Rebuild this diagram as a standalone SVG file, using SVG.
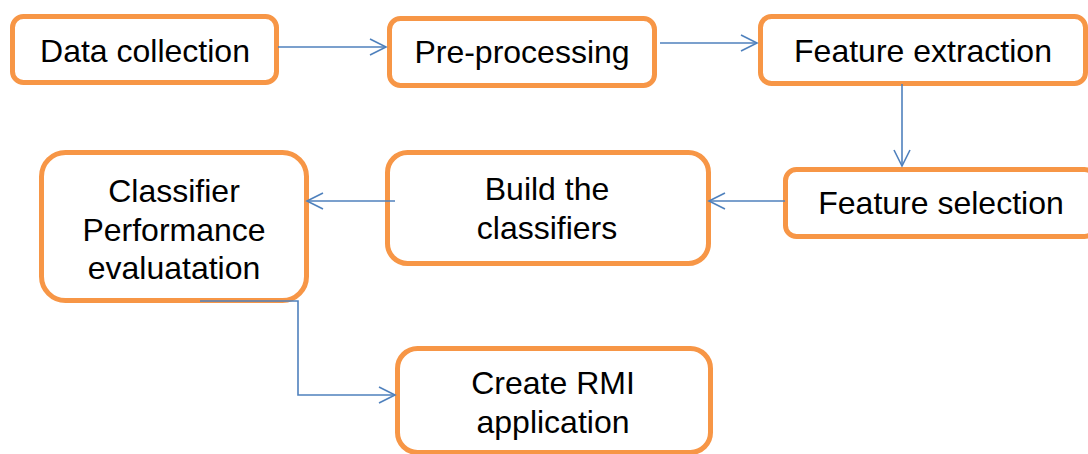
<svg xmlns="http://www.w3.org/2000/svg" width="1088" height="454" viewBox="0 0 1088 454">
  <defs>
    <style>
      .box { fill: #ffffff; stroke: #F79646; stroke-width: 5; }
      .lbl { font-family: "Liberation Sans", Arial, sans-serif; font-size: 32px; fill: #000000; text-anchor: middle; }
      .wire { fill: none; stroke: #4F81BD; stroke-width: 1.6; }
    </style>
    <marker id="open-arrow" viewBox="0 0 20 20" refX="18" refY="10" markerWidth="20" markerHeight="20" markerUnits="userSpaceOnUse" orient="auto">
      <path d="M2,2 L18,10 L2,18" fill="none" stroke="#4F81BD" stroke-width="1.6"/>
    </marker>
  </defs>
  <rect width="1088" height="454" fill="#ffffff"/>

  <g id="data-collection">
    <rect class="box" x="12.5" y="16.5" width="264" height="66" rx="11"/>
    <text class="lbl" x="145" y="62">Data collection</text>
  </g>
  <g id="pre-processing">
    <rect class="box" x="389.5" y="18.5" width="265" height="67" rx="11"/>
    <text class="lbl" x="522" y="63">Pre-processing</text>
  </g>
  <g id="feature-extraction">
    <rect class="box" x="760.5" y="16.5" width="325" height="67" rx="11"/>
    <text class="lbl" x="923" y="62">Feature extraction</text>
  </g>
  <g id="feature-selection">
    <rect class="box" x="785.5" y="169.5" width="310" height="67" rx="11"/>
    <text class="lbl" x="941" y="214">Feature selection</text>
  </g>
  <g id="build-classifiers">
    <rect class="box" x="387.5" y="152.5" width="321" height="111" rx="20"/>
    <text class="lbl" x="547" y="200">Build the</text>
    <text class="lbl" x="547" y="239">classifiers</text>
  </g>
  <g id="classifier-evaluation">
    <rect class="box" x="41.5" y="152.5" width="265" height="148" rx="24"/>
    <text class="lbl" x="174" y="202">Classifier</text>
    <text class="lbl" x="174" y="241">Performance</text>
    <text class="lbl" x="174" y="279">evaluatation</text>
  </g>
  <g id="create-rmi">
    <rect class="box" x="397.5" y="348.5" width="313" height="104" rx="20"/>
    <text class="lbl" x="553" y="394">Create RMI</text>
    <text class="lbl" x="553" y="433">application</text>
  </g>

  <g id="connectors">
    <path class="wire" d="M278,47 H386" marker-end="url(#open-arrow)"/>
    <path class="wire" d="M660,43 H757" marker-end="url(#open-arrow)"/>
    <path class="wire" d="M902,84 V166" marker-end="url(#open-arrow)"/>
    <path class="wire" d="M785,201 H709" marker-end="url(#open-arrow)"/>
    <path class="wire" d="M395,201 H307" marker-end="url(#open-arrow)"/>
    <path class="wire" d="M200,301 H298 V395 H395" marker-end="url(#open-arrow)"/>
  </g>
</svg>
